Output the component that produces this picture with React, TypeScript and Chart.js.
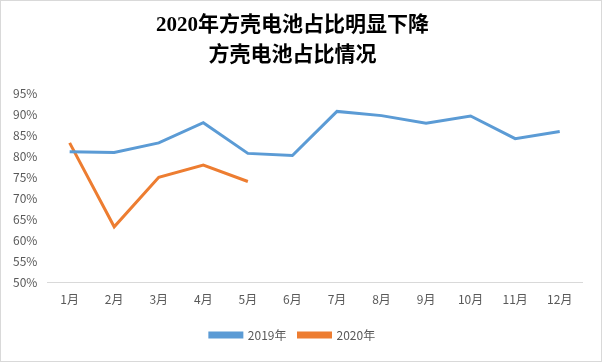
import React, { useEffect, useRef } from "react";
import { Chart, registerables } from "chart.js";

Chart.register(...registerables);

const categories = ["1月", "2月", "3月", "4月", "5月", "6月", "7月", "8月", "9月", "10月", "11月", "12月"];
const series2019 = [81.2, 81.0, 83.3, 88.1, 80.8, 80.3, 90.8, 89.8, 88.0, 89.7, 84.3, 86.0];
const series2020 = [83.3, 63.3, 75.1, 78.0, 74.1, null, null, null, null, null, null, null];
const titleLines = ["2020年方壳电池占比明显下降", "方壳电池占比情况"];

export default function App() {
  const ref = useRef<HTMLCanvasElement | null>(null);
  useEffect(() => {
    document.body.style.margin = "0";
    const canvas = ref.current;
    if (!canvas) return;
    const chart = new Chart(canvas, {
      type: "line",
      data: {
        labels: categories,
        datasets: [
          {
            label: "2019年",
            data: series2019,
            borderColor: "#5B9BD5",
            backgroundColor: "#5B9BD5",
            borderWidth: 3,
            pointRadius: 0,
            tension: 0,
          },
          {
            label: "2020年",
            data: series2020,
            borderColor: "#ED7D31",
            backgroundColor: "#ED7D31",
            borderWidth: 3,
            pointRadius: 0,
            tension: 0,
          },
        ],
      },
      options: {
        animation: false,
        responsive: false,
        layout: { padding: { left: 2, right: 19, top: 6, bottom: 10 } },
        plugins: {
          title: {
            display: true,
            text: titleLines,
            color: "#000000",
            font: { family: "'Liberation Serif', 'Noto Sans CJK SC', serif", size: 21, weight: "bold", lineHeight: 1.4 },
            padding: { top: 4, bottom: 24 },
          },
          legend: {
            position: "bottom",
            labels: {
              boxWidth: 32,
              boxHeight: 4,
              color: "#595959",
              font: { family: "'Noto Sans CJK SC', sans-serif", size: 12 },
              padding: 12,
            },
          },
          tooltip: { enabled: false },
        },
        scales: {
          x: {
            offset: true,
            grid: { display: false, drawTicks: false },
            border: { display: true, color: "#D9D9D9", width: 1 },
            ticks: {
              color: "#595959",
              font: { family: "'Noto Sans CJK SC', sans-serif", size: 12 },
              padding: 10,
              maxRotation: 0,
            },
          },
          y: {
            min: 50,
            max: 95,
            grid: { display: false, drawTicks: false },
            border: { display: false },
            ticks: {
              stepSize: 5,
              color: "#595959",
              font: { family: "'Noto Sans CJK SC', sans-serif", size: 12 },
              padding: 10,
              callback: (v: any) => v + "%",
            },
          },
        },
      },
    });
    return () => chart.destroy();
  }, []);
  return (
    <div style={{ width: 600, height: 360, border: "1px solid #D9D9D9", background: "#fff" }}>
      <canvas ref={ref} width={600} height={360} />
    </div>
  );
}
